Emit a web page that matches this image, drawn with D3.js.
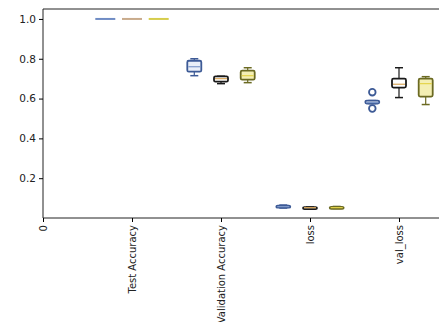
<!DOCTYPE html>
<html>
<head>
<meta charset="utf-8">
<script src="https://cdnjs.cloudflare.com/ajax/libs/d3/7.8.5/d3.min.js"></script>
<style>
  body { margin: 0; background: #fff; }
  svg { display: block; }
  text { font-family: "DejaVu Sans", sans-serif; fill: #222; }
</style>
</head>
<body>
<div id="chart"></div>
<script>
const svgWidth = 439
const svgHeight = 322

// x positions 0..4, first tick is the bare "0"
const xTickLabels = ["0", "Test Accuracy", "Validation Accuracy", "loss", "val_loss"]
const categories = ["Test Accuracy", "Validation Accuracy", "loss", "val_loss"]
const yTicks = [0.2, 0.4, 0.6, 0.8, 1.0]

// box stats per category: [whiskerLow, q1, median, q3, whiskerHigh]
const blueStats = [
  [1.0, 1.0, 1.0, 1.0, 1.0],
  [0.715, 0.735, 0.76, 0.79, 0.80],
  [0.05, 0.053, 0.057, 0.062, 0.065],
  [0.575, 0.575, 0.58, 0.59, 0.59]
]
const blueOutliers = [[], [], [], [0.55, 0.632]]

const plainStats = [
  [1.0, 1.0, 1.0, 1.0, 1.0],
  [0.675, 0.685, 0.70, 0.712, 0.712],
  [0.048, 0.05, 0.052, 0.055, 0.055],
  [0.605, 0.655, 0.672, 0.70, 0.755]
]

const yellowStats = [
  [1.0, 1.0, 1.0, 1.0, 1.0],
  [0.68, 0.695, 0.715, 0.74, 0.755],
  [0.048, 0.05, 0.052, 0.056, 0.058],
  [0.57, 0.61, 0.675, 0.70, 0.71]
]

let margin = { top: 9, right: -49, bottom: 104, left: 43 }
let width = svgWidth - margin.left - margin.right
let height = svgHeight - margin.top - margin.bottom

let svg = d3.select("#chart")
  .append("svg")
  .attr("width", svgWidth)
  .attr("height", svgHeight)

let chartGroup = svg.append("g")
  .attr("transform", `translate(${margin.left}, ${margin.top})`)

let x = d3.scaleLinear().domain([0, 5]).range([0, width])
let y = d3.scaleLinear().domain([0.0, 1.05]).range([height, 0])

// series: offset in x units + styling
let series = [
  { stats: blueStats, outliers: blueOutliers, dx: -0.3, stroke: "#3d5a96", fill: "#e9eef8", median: "#7f9acb", flat: "#6f8cc4" },
  { stats: plainStats, outliers: [[], [], [], []], dx: 0, stroke: "#1a1a1a", fill: "#ffffff", median: "#d9a75a", flat: "#c9ab8c" },
  { stats: yellowStats, outliers: [[], [], [], []], dx: 0.3, stroke: "#6b6a22", fill: "#f4efb4", median: "#e4d44a", flat: "#d6cd4c" }
]

let boxW = 14

series.forEach(s => {
  s.stats.forEach((st, i) => {
    let cx = x(i + 1 + s.dx)
    let [lo, q1, med, q3, hi] = st
    let g = chartGroup.append("g")

    if (hi - lo < 0.001) {
      // degenerate box, draw as a flat line
      g.append("line")
        .attr("x1", cx - 10).attr("x2", cx + 10)
        .attr("y1", y(med)).attr("y2", y(med))
        .attr("stroke", s.flat).attr("stroke-width", 2)
      return
    }

    // whiskers
    g.append("line")
      .attr("x1", cx).attr("x2", cx)
      .attr("y1", y(hi)).attr("y2", y(q3))
      .attr("stroke", s.stroke).attr("stroke-width", 1.2)
    g.append("line")
      .attr("x1", cx).attr("x2", cx)
      .attr("y1", y(q1)).attr("y2", y(lo))
      .attr("stroke", s.stroke).attr("stroke-width", 1.2)
    ;[lo, hi].forEach(v => {
      g.append("line")
        .attr("x1", cx - 4).attr("x2", cx + 4)
        .attr("y1", y(v)).attr("y2", y(v))
        .attr("stroke", s.stroke).attr("stroke-width", 1.5)
    })

    // box
    g.append("rect")
      .attr("x", cx - boxW / 2)
      .attr("y", y(q3))
      .attr("width", boxW)
      .attr("height", Math.max(y(q1) - y(q3), 2))
      .attr("rx", 1.5)
      .attr("fill", s.fill)
      .attr("stroke", s.stroke)
      .attr("stroke-width", 1.8)

    g.append("line")
      .attr("x1", cx - boxW / 2 + 1).attr("x2", cx + boxW / 2 - 1)
      .attr("y1", y(med)).attr("y2", y(med))
      .attr("stroke", s.median).attr("stroke-width", 1.2)

    s.outliers[i].forEach(v => {
      g.append("circle")
        .attr("cx", cx).attr("cy", y(v))
        .attr("r", 3.3)
        .attr("fill", "none")
        .attr("stroke", s.stroke)
        .attr("stroke-width", 1.8)
    })
  })
})

// frame (right side runs past the window)
chartGroup.append("line")
  .attr("x1", 0).attr("x2", width).attr("y1", 0).attr("y2", 0)
  .attr("stroke", "#222").attr("stroke-width", 1)

let leftAxis = d3.axisLeft(y).tickValues(yTicks).tickFormat(d3.format(".1f")).tickSize(4).tickPadding(3)
let yAxis = chartGroup.append("g").call(leftAxis)
yAxis.select(".domain").attr("d", `M0,0V${height}`).attr("stroke", "#222")
yAxis.selectAll("text").style("font-size", "10.5px").attr("fill", "#222")

let bottomAxis = d3.axisBottom(x)
  .tickValues(d3.range(xTickLabels.length))
  .tickFormat(i => xTickLabels[i])
  .tickSize(4)
let xAxis = chartGroup.append("g")
  .attr("transform", `translate(0, ${height})`)
  .call(bottomAxis)
xAxis.select(".domain").attr("d", `M0,0H${width}`).attr("stroke", "#222")
xAxis.selectAll("text")
  .style("font-size", "10px")
  .attr("fill", "#222")
  .attr("transform", "rotate(-90)")
  .attr("text-anchor", "end")
  .attr("x", -7)
  .attr("y", 0)
  .attr("dy", "0.35em")
</script>
</body>
</html>
